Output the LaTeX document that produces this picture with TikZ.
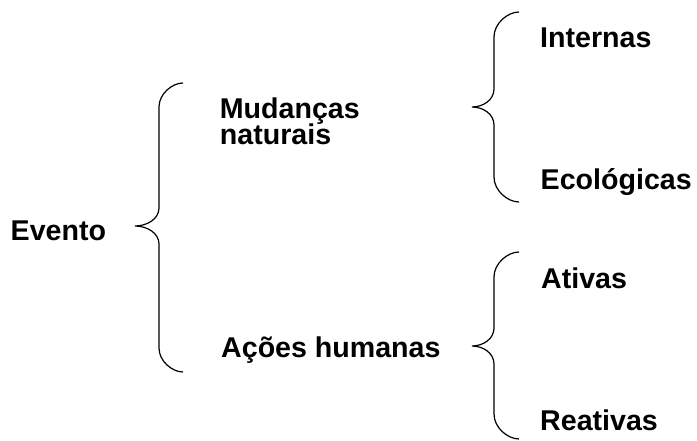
\documentclass[tikz,border=0pt]{standalone}
\usepackage{fontspec}
\setmainfont{Liberation Sans}
\newcommand\drawcurly[6]{% xe xv xt yt ym yb
  \draw[bracestyle] (#1,#4) .. controls ({#2+0.55*(#1-#2)},#4) and (#2,{#4+0.45*(#1-#2)}) .. (#2,{#4+(#1-#2)})
    -- (#2,{#5-18}) .. controls (#2,{#5-7}) and ({#3+0.5*(#2-#3)},#5) .. (#3,#5)
    .. controls ({#3+0.5*(#2-#3)},#5) and (#2,{#5+7}) .. (#2,{#5+18})
    -- (#2,{#6-(#1-#2)}) .. controls (#2,{#6-0.45*(#1-#2)}) and ({#2+0.55*(#1-#2)},#6) .. (#1,#6);}
\begin{document}
\begin{tikzpicture}[x=1pt,y=-1pt,
  bracestyle/.style={line width=1.2pt,black},
  lbl/.style={anchor=base west,inner sep=0pt,font=\fontsize{28.6}{26.8}\selectfont\bfseries,align=left}]
\useasboundingbox (0,0) rectangle (697,441);
\drawcurly{183}{159}{135}{83}{226}{372}
\drawcurly{519}{494}{472}{12}{107}{202}
\drawcurly{519}{494}{472}{252}{346}{439}
\node[lbl] (evento) at (10.5,240.7) {Evento};
\node[lbl] (mud) at (219.7,145) {Mudanças\\naturais};
\node[lbl] (acoes) at (221,357.5) {Ações humanas};
\node[lbl] (int) at (540,47.7) {Internas};
\node[lbl] (eco) at (540.5,190) {Ecológicas};
\node[lbl] (ati) at (541,288) {Ativas};
\node[lbl] (rea) at (540,430) {Reativas};
\end{tikzpicture}
\end{document}
